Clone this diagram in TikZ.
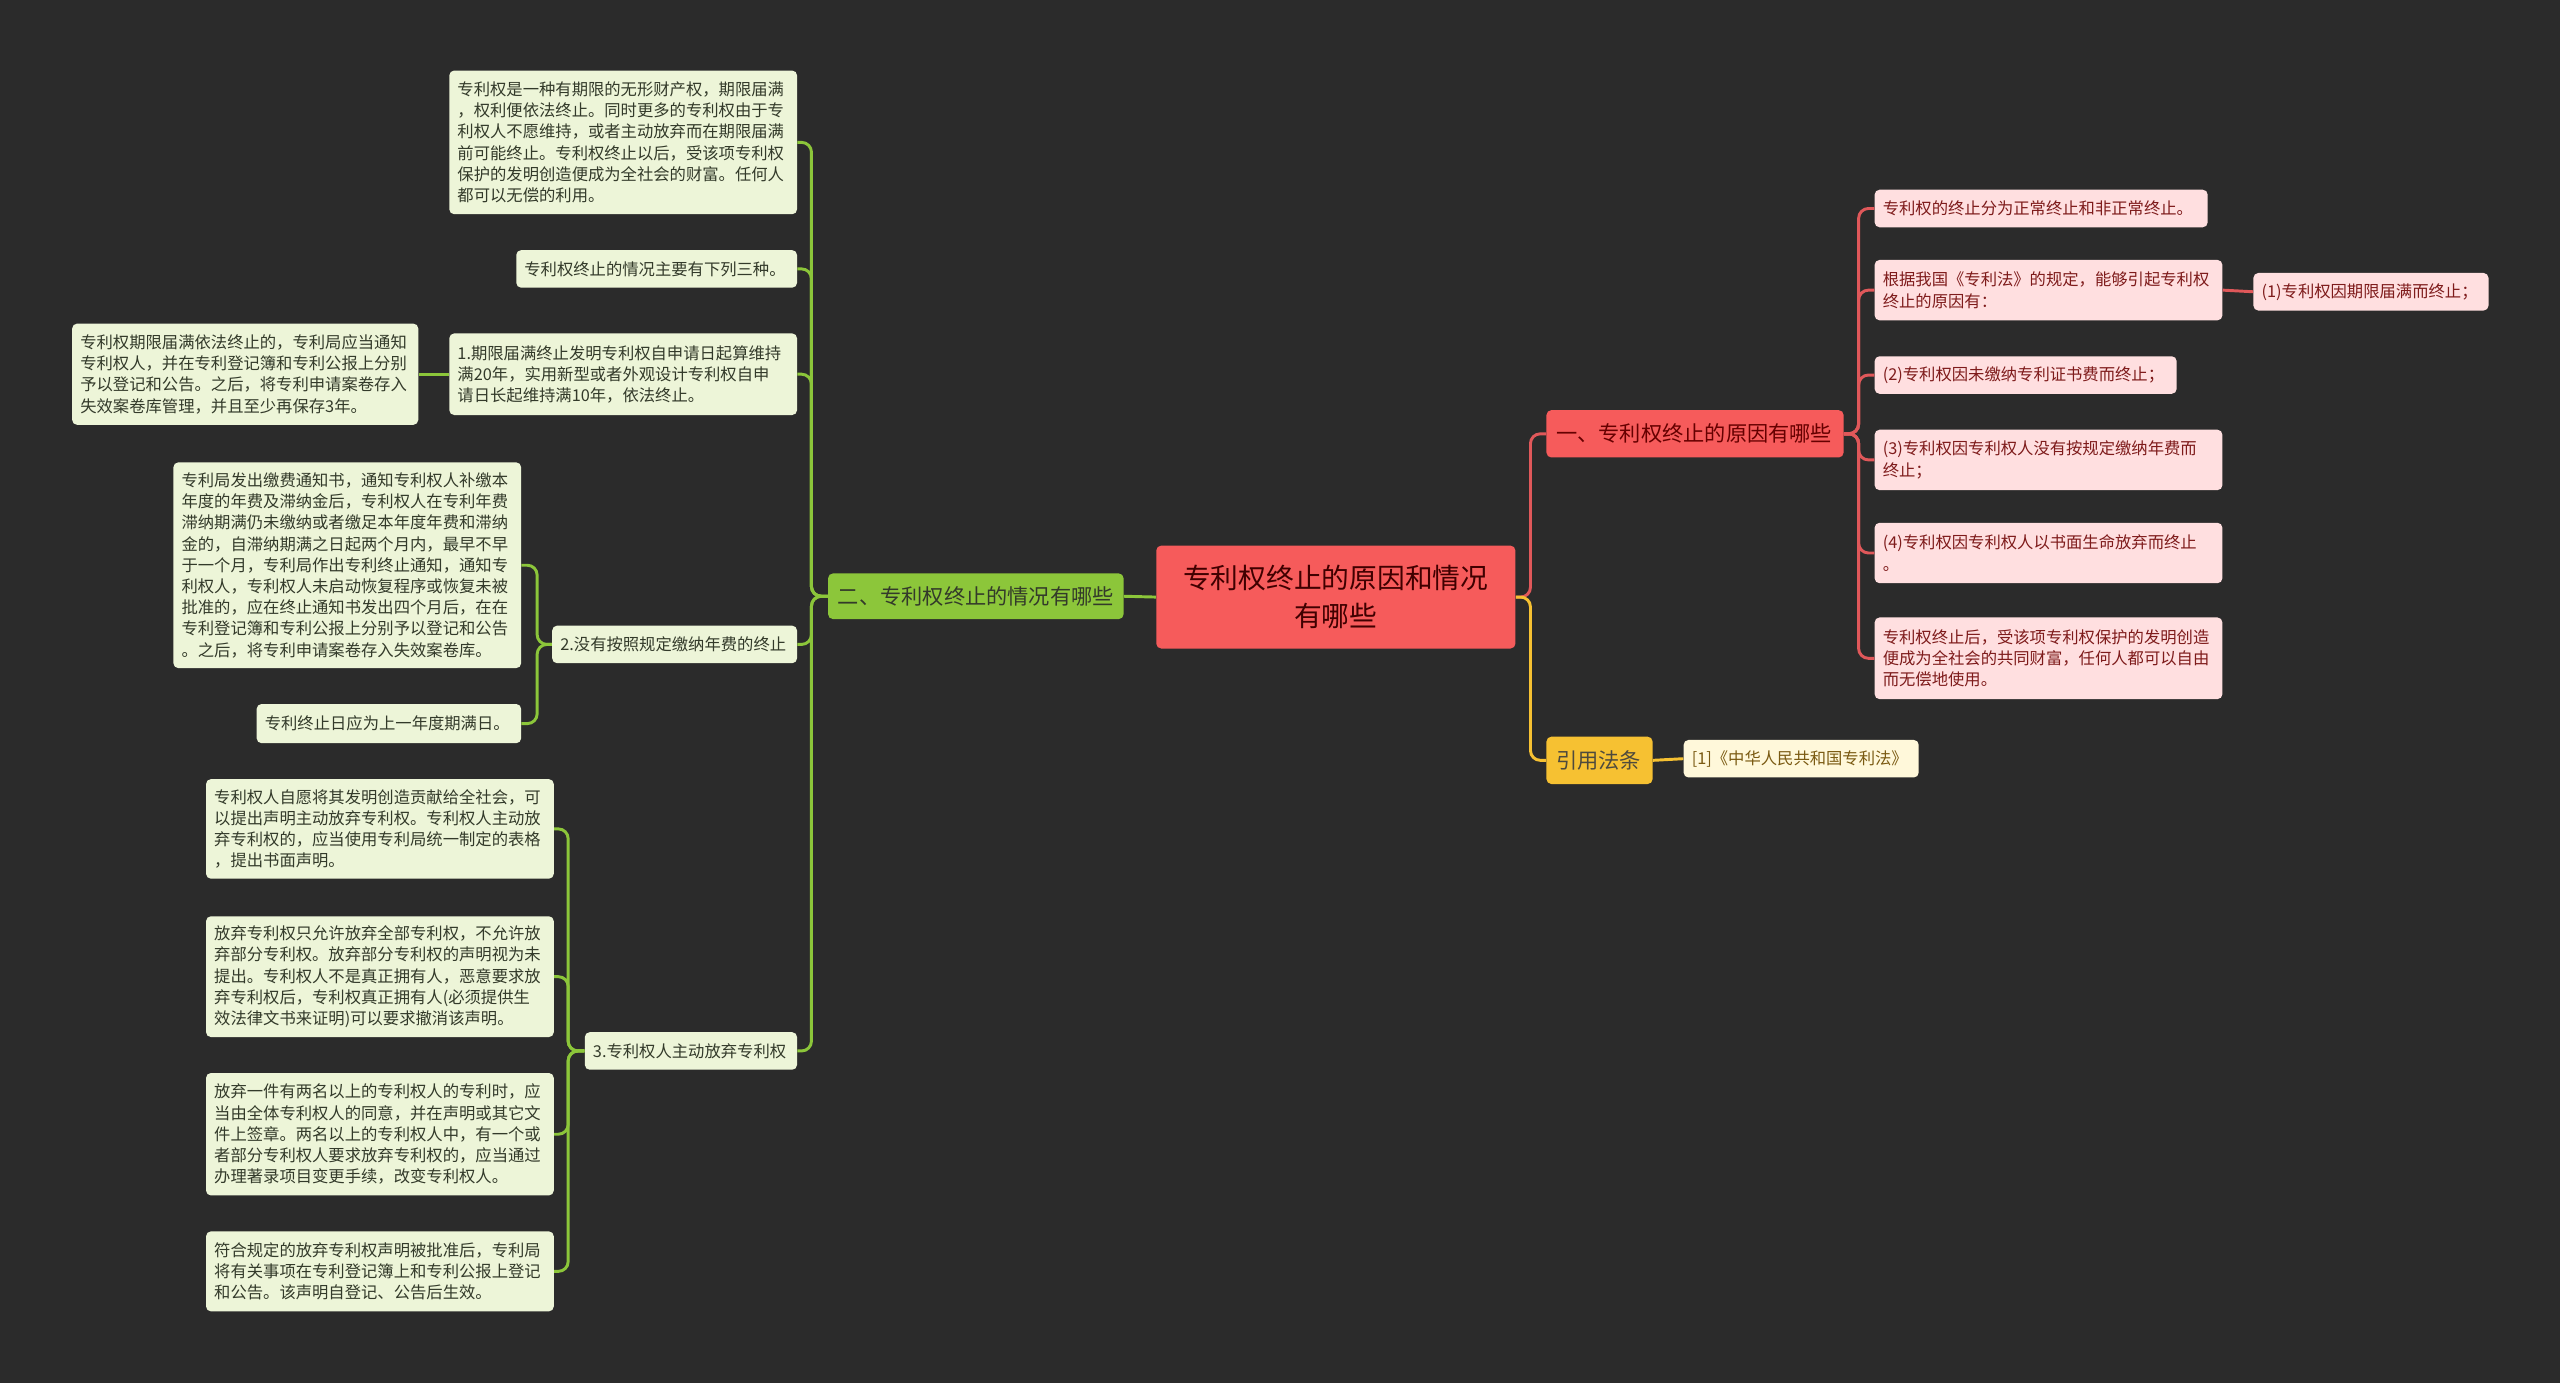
\documentclass[tikz,border=0pt]{standalone}
\usepackage{fontspec}
\setmainfont{Noto Sans CJK SC}
\definecolor{bg}{HTML}{2B2B2B}
\definecolor{rootc}{HTML}{F65B5B}
\definecolor{redline}{HTML}{E0585A}
\definecolor{pinkf}{HTML}{FFDFE0}
\definecolor{pinkt}{HTML}{7E1B1B}
\definecolor{greenb}{HTML}{8CC63A}
\definecolor{greenl}{HTML}{8CC63A}
\definecolor{lgreen}{HTML}{EDF5D8}
\definecolor{gtext}{HTML}{333A2A}
\definecolor{yellowb}{HTML}{F6C132}
\definecolor{ylf}{HTML}{FFF8DA}
\definecolor{ytext}{HTML}{7A5A12}
\tikzset{
  box/.style={anchor=north west, rounded corners=3pt, inner xsep=5pt, inner ysep=3pt, align=left},
  small/.style={font=\fontsize{10}{13}\selectfont},
  gleaf/.style={box, small, fill=lgreen, text=gtext},
  pleaf/.style={box, small, fill=pinkf, text=pinkt},
  yleaf/.style={box, small, fill=ylf, text=ytext},
  branchbox/.style={box, font=\fontsize{13}{16}\selectfont, inner xsep=6pt},
  conn/.style={line width=1.8pt, rounded corners=6pt},
  gl/.style={conn, draw=greenl},
  rl/.style={conn, draw=redline},
  yl/.style={conn, draw=yellowb},
}
\begin{document}
\begin{tikzpicture}[x=1pt,y=-1pt]
\fill[bg] (0,0) rectangle (1568,847);
\useasboundingbox (0,0) rectangle (1568,847);

% root
\node[box, fill=rootc, text=black!75!red, align=center, inner xsep=8pt, text width=204pt, minimum height=63pt, font=\fontsize{17}{23}\selectfont] (root) at (708,334) {专利权终止的原因和情况\\有哪些};

% branches
\node[branchbox, fill=greenb, text=gtext, text width=169pt, minimum height=28pt] (b2) at (507,351) {二、专利权终止的情况有哪些};
\node[branchbox, fill=rootc, text=black!60!red, text width=170pt, minimum height=29pt] (b1) at (947,251) {一、专利权终止的原因有哪些};
\node[branchbox, fill=yellowb, text=black!80!yellow, text width=53pt, minimum height=29pt] (b3) at (947,451) {引用法条};

% right side
\node[pleaf, text width=194pt, minimum height=23pt] (r1) at (1148,116) {专利权的终止分为正常终止和非正常终止。};
\node[pleaf, text width=203pt, minimum height=37pt] (r2) at (1148,159) {根据我国《专利法》的规定，能够引起专利权\\终止的原因有：};
\node[pleaf, text width=134pt, minimum height=23pt] (r2a) at (1380,167) {(1)专利权因期限届满而终止；};
\node[pleaf, text width=175pt, minimum height=23pt] (r3) at (1148,218) {(2)专利权因未缴纳专利证书费而终止；};
\node[pleaf, text width=203pt, minimum height=37pt] (r4) at (1148,263) {(3)专利权因专利权人没有按规定缴纳年费而\\终止；};
\node[pleaf, text width=203pt, minimum height=37pt] (r5) at (1148,320) {(4)专利权因专利权人以书面生命放弃而终止\\。};
\node[pleaf, text width=203pt, minimum height=50pt] (r6) at (1148,378) {专利权终止后，受该项专利权保护的发明创造\\便成为全社会的共同财富，任何人都可以自由\\而无偿地使用。};
\node[yleaf, text width=134pt, minimum height=23pt] (y1) at (1031,453) {[1]《中华人民共和国专利法》};

% left side
\node[gleaf, text width=203pt, minimum height=88pt] (l1) at (275,43) {专利权是一种有期限的无形财产权，期限届满\\，权利便依法终止。同时更多的专利权由于专\\利权人不愿维持，或者主动放弃而在期限届满\\前可能终止。专利权终止以后，受该项专利权\\保护的发明创造便成为全社会的财富。任何人\\都可以无偿的利用。};
\node[gleaf, text width=162pt, minimum height=23pt] (l2) at (316,153) {专利权终止的情况主要有下列三种。};
\node[gleaf, text width=203pt, minimum height=50pt] (l3) at (275,204) {1.期限届满终止发明专利权自申请日起算维持\\满20年，实用新型或者外观设计专利权自申\\请日长起维持满10年，依法终止。};
\node[gleaf, text width=202pt, minimum height=62pt] (l3a) at (44,198) {专利权期限届满依法终止的，专利局应当通知\\专利权人，并在专利登记簿和专利公报上分别\\予以登记和公告。之后，将专利申请案卷存入\\失效案卷库管理，并且至少再保存3年。};
\node[gleaf, text width=140pt, minimum height=23pt] (l4) at (338,383) {2.没有按照规定缴纳年费的终止};
\node[gleaf, text width=203pt, minimum height=126pt] (l4a) at (106,283) {专利局发出缴费通知书，通知专利权人补缴本\\年度的年费及滞纳金后，专利权人在专利年费\\滞纳期满仍未缴纳或者缴足本年度年费和滞纳\\金的，自滞纳期满之日起两个月内，最早不早\\于一个月，专利局作出专利终止通知，通知专\\利权人，专利权人未启动恢复程序或恢复未被\\批准的，应在终止通知书发出四个月后，在在\\专利登记簿和专利公报上分别予以登记和公告\\。之后，将专利申请案卷存入失效案卷库。};
\node[gleaf, text width=152pt, minimum height=24pt] (l4b) at (157,431) {专利终止日应为上一年度期满日。};
\node[gleaf, text width=120pt, minimum height=23pt] (l5) at (358,632) {3.专利权人主动放弃专利权};
\node[gleaf, text width=203pt, minimum height=61pt] (l5a) at (126,477) {专利权人自愿将其发明创造贡献给全社会，可\\以提出声明主动放弃专利权。专利权人主动放\\弃专利权的，应当使用专利局统一制定的表格\\，提出书面声明。};
\node[gleaf, text width=203pt, minimum height=74pt] (l5b) at (126,561) {放弃专利权只允许放弃全部专利权，不允许放\\弃部分专利权。放弃部分专利权的声明视为未\\提出。专利权人不是真正拥有人，恶意要求放\\弃专利权后，专利权真正拥有人(必须提供生\\效法律文书来证明)可以要求撤消该声明。};
\node[gleaf, text width=203pt, minimum height=75pt] (l5c) at (126,657) {放弃一件有两名以上的专利权人的专利时，应\\当由全体专利权人的同意，并在声明或其它文\\件上签章。两名以上的专利权人中，有一个或\\者部分专利权人要求放弃专利权的，应当通过\\办理著录项目变更手续，改变专利权人。};
\node[gleaf, text width=203pt, minimum height=49pt] (l5d) at (126,754) {符合规定的放弃专利权声明被批准后，专利局\\将有关事项在专利登记簿上和专利公报上登记\\和公告。该声明自登记、公告后生效。};

% connectors: root
\draw[gl] (root.west) -- (b2.east);
\draw[rl] (root.east) -- ++(9,0) |- (b1.west);
\draw[yl] (root.east) -- ++(9,0) |- (b3.west);
\draw[yl] (b3.east) -- (y1.west);

% right red
\foreach \n in {r1,r2,r3,r4,r5,r6}{
  \draw[rl] (b1.east) -- ++(9,0) |- (\n.west);
}
\draw[rl] (r2.east) -- (r2a.west);

% left green
\foreach \n in {l1,l2,l3,l4,l5}{
  \draw[gl] (b2.west) -- ++(-10,0) |- (\n.east);
}
\draw[gl] (l3.west) -- (l3a.east);
\foreach \n in {l4a,l4b}{
  \draw[gl] (l4.west) -- ++(-9,0) |- (\n.east);
}
\foreach \n in {l5a,l5b,l5c,l5d}{
  \draw[gl] (l5.west) -- ++(-10,0) |- (\n.east);
}
\end{tikzpicture}
\end{document}
